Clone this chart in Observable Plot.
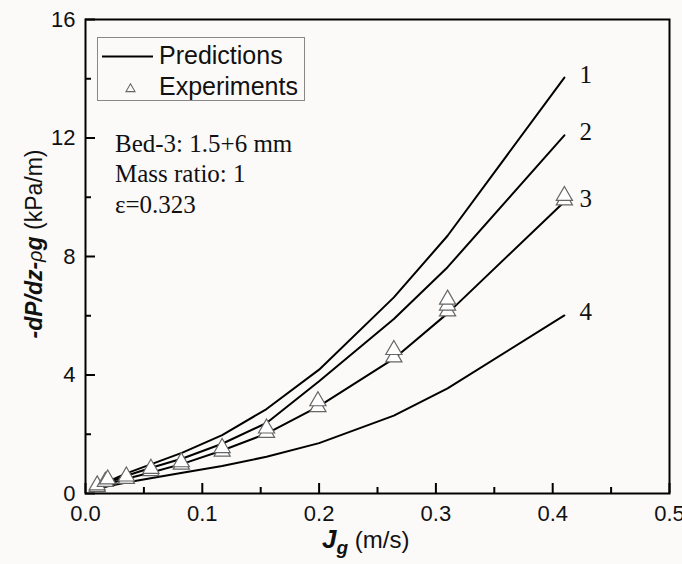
<!DOCTYPE html>
<html><head><meta charset="utf-8">
<script src="https://cdn.jsdelivr.net/npm/d3@7"></script>
<script src="https://cdn.jsdelivr.net/npm/@observablehq/plot@0.6"></script>
<style>
html,body{margin:0;padding:0;background:#fcfaf8;}
#chart{width:682px;height:564px;}
</style></head><body><div id="chart"></div>
<script>
// Superficial gas velocity (m/s) for the prediction curves
const jg = [0.008, 0.02, 0.035, 0.057, 0.083, 0.117, 0.155, 0.2, 0.264, 0.31, 0.41];
// Predicted -dP/dz - rho g (kPa/m)
const pred1 = [0.20, 0.42, 0.68, 1.00, 1.38, 1.97, 2.85, 4.18, 6.62, 8.70, 14.04];
const pred2 = [0.18, 0.38, 0.60, 0.88, 1.18, 1.68, 2.38, 3.79, 5.89, 7.64, 12.09];
const pred3 = [0.16, 0.33, 0.50, 0.72, 1.00, 1.45, 2.02, 2.95, 4.55, 6.08, 9.85];
const pred4 = [0.13, 0.25, 0.37, 0.52, 0.70, 0.93, 1.24, 1.70, 2.63, 3.55, 6.01];
const curveLabels = ["1", "2", "3", "4"];
// Experiments
const expJg = [0.01, 0.01, 0.017, 0.019, 0.035, 0.035, 0.056, 0.056, 0.082, 0.082, 0.117, 0.117, 0.155, 0.155, 0.199, 0.199, 0.264, 0.264, 0.31, 0.31, 0.31, 0.41, 0.41];
const expDp = [0.22, 0.28, 0.40, 0.48, 0.50, 0.58, 0.76, 0.84, 0.98, 1.06, 1.42, 1.54, 2.05, 2.20, 2.92, 3.12, 4.60, 4.85, 6.15, 6.35, 6.55, 9.90, 10.05];
// Ticks
const xTicks = [0, 0.1, 0.2, 0.3, 0.4, 0.5];
const xMinor = [0.05, 0.15, 0.25, 0.35, 0.45];
const yTicks = [0, 4, 8, 12, 16];
const yMinor = [2, 6, 10, 14];
const legendItems = ["Predictions", "Experiments"];
const noteLines = ["Bed-3: 1.5+6 mm", "Mass ratio: 1", "ε=0.323"];

const W = 682, H = 564, mL = 85, mR = 13, mT = 19, mB = 71;
const plotW = W - mL - mR, plotH = H - mT - mB;
const BG = "#fcfaf8";
const SANS = "'Liberation Sans', Arial, sans-serif";
const SERIF = "'Liberation Serif', 'Times New Roman', serif";

const series = [pred1, pred2, pred3, pred4];
const lines = series.flatMap((s, i) => s.map((v, j) => ({x: jg[j], y: v, k: curveLabels[i]})));
const ends = series.map((s, i) => ({x: jg[jg.length - 1], y: s[s.length - 1], label: curveLabels[i]}));
const exps = expJg.map((x, i) => ({x, y: expDp[i]}));

const plot = Plot.plot({
  width: W, height: H,
  marginLeft: mL, marginRight: mR, marginTop: mT, marginBottom: mB,
  style: {background: BG, fontFamily: SANS, color: "#111", overflow: "visible"},
  x: {domain: [0, 0.5]},
  y: {domain: [0, 16]},
  marks: [
    Plot.axisX({ticks: xTicks, tickSize: 0, tickPadding: 12, tickFormat: d3.format(".1f"), fontSize: 22, label: null}),
    Plot.axisY({ticks: yTicks, tickSize: 0, tickPadding: 10, fontSize: 22, label: null}),
    Plot.tickX(xTicks, {x: d => d, insetTop: plotH - 10, stroke: "#000", strokeWidth: 2}),
    Plot.tickX(xMinor, {x: d => d, insetTop: plotH - 6, stroke: "#000", strokeWidth: 2}),
    Plot.tickY(yTicks, {y: d => d, insetRight: plotW - 10, stroke: "#000", strokeWidth: 2}),
    Plot.tickY(yMinor, {y: d => d, insetRight: plotW - 6, stroke: "#000", strokeWidth: 2}),
    Plot.line(lines, {x: "x", y: "y", z: "k", stroke: "#000", strokeWidth: 2}),
    Plot.dot(exps, {x: "x", y: "y", symbol: "triangle", r: 6, stroke: "#666", fill: "#fff", strokeWidth: 1.2}),
    Plot.text(ends, {x: "x", y: "y", text: "label", dx: 15, dy: -3, textAnchor: "start", fontSize: 25, fontFamily: SERIF, fill: "#111"}),
    Plot.frame({stroke: "#000", strokeWidth: 2})
  ]
});
document.getElementById("chart").appendChild(plot);

const svg = d3.select(plot);
// Legend
const lg = svg.append("g");
lg.append("rect").attr("x", 97.5).attr("y", 37.5).attr("width", 207).attr("height", 63)
  .attr("fill", BG).attr("stroke", "#888").attr("stroke-width", 1);
lg.append("line").attr("x1", 102).attr("x2", 153).attr("y1", 56.5).attr("y2", 56.5)
  .attr("stroke", "#000").attr("stroke-width", 2);
lg.append("path").attr("d", d3.symbol(d3.symbolTriangle2, 58)())
  .attr("transform", "translate(130.5,89)").attr("fill", "none").attr("stroke", "#666").attr("stroke-width", 1.1);
lg.selectAll("text.lg").data(legendItems).join("text")
  .attr("x", 159).attr("y", (d, i) => [63.5, 94.5][i]).attr("text-anchor", "start")
  .attr("font-family", SANS).attr("font-size", 25).attr("fill", "#111").text(d => d);

// Annotation
svg.append("g").selectAll("text").data(noteLines).join("text")
  .attr("x", 115).attr("y", (d, i) => 151.5 + i * 30.8).attr("text-anchor", "start")
  .attr("font-family", SERIF).attr("font-size", 25).attr("fill", "#111").text(d => d);

// X label
const xl = svg.append("text").attr("x", 322).attr("y", 548).attr("text-anchor", "start")
  .attr("font-family", SANS).attr("fill", "#111");
xl.append("tspan").attr("font-size", 26).attr("font-weight", "bold").attr("font-style", "italic").text("J");
xl.append("tspan").attr("font-size", 19).attr("font-weight", "bold").attr("font-style", "italic").attr("dy", 6).text("g");
xl.append("tspan").attr("font-size", 24).attr("dy", -6).text(" (m/s)");

// Y label
const yl = svg.append("text").attr("transform", "translate(42,244) rotate(-90)")
  .attr("text-anchor", "middle").attr("font-family", SANS).attr("fill", "#111");
yl.append("tspan").attr("font-size", 23).attr("font-weight", "bold").attr("font-style", "italic").text("-dP/dz-");
yl.append("tspan").attr("font-size", 20).attr("font-style", "italic").text("ρ");
yl.append("tspan").attr("font-size", 23).attr("font-weight", "bold").attr("font-style", "italic").text("g");
yl.append("tspan").attr("font-size", 23).text(" (kPa/m)");
</script>
</body></html>
